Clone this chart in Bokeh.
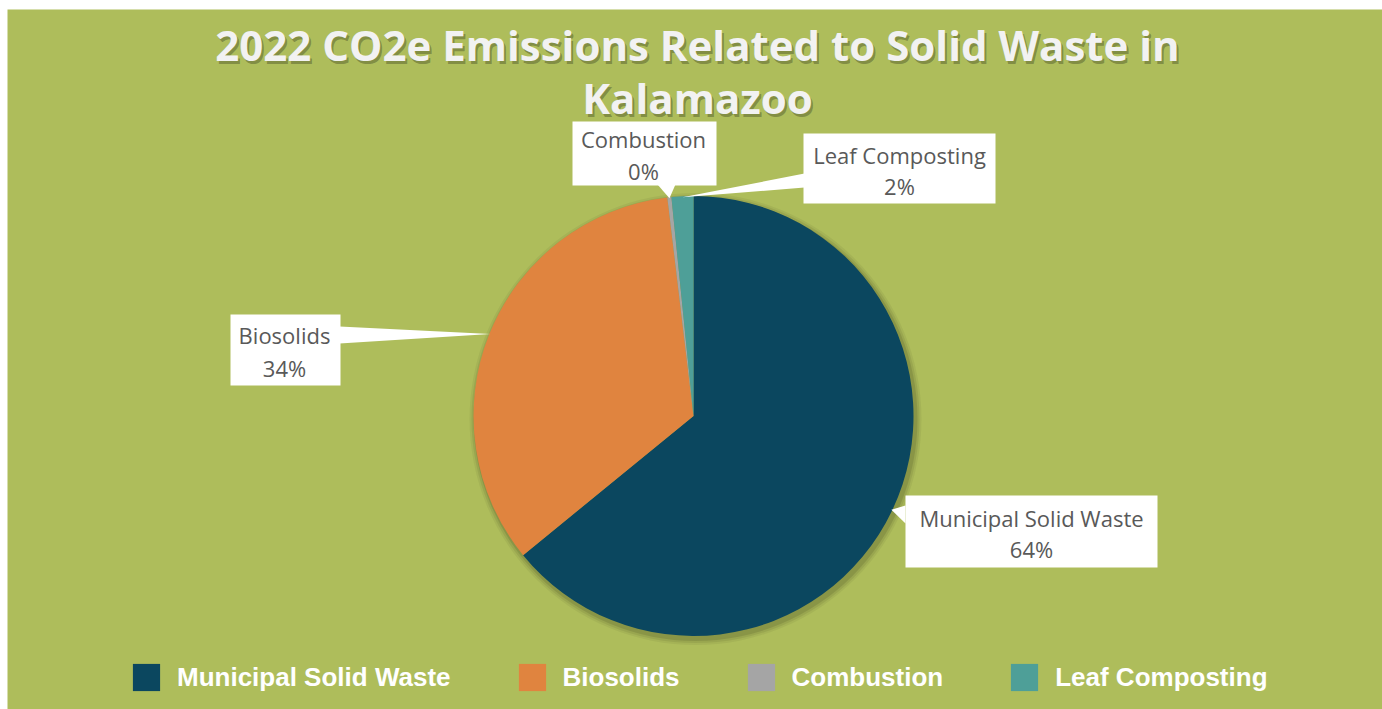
import math
from bokeh.plotting import figure
from bokeh.models import ColumnDataSource, Range1d, Legend, LegendItem
from bokeh.core.properties import value
from bokeh.embed import file_html
from bokeh.resources import INLINE

# ---- data ----
categories = ["Municipal Solid Waste", "Biosolids", "Combustion", "Leaf Composting"]
shares = [64.1, 34.0, 0.3, 1.6]
pct_labels = ["64%", "34%", "0%", "2%"]
colors = ["#0B475F", "#E0843F", "#A5A5A5", "#4E9F98"]
title_lines = ["2022 CO2e Emissions Related to Solid Waste in", "Kalamazoo"]

# ---- layout ----
W, H = 1382, 709
LEFT, TOP = 7, 9
BG = "#AEBD5B"

def X(px):  # image px -> data x
    return px

def Y(py):  # image px -> data y
    return H - py

p = figure(width=W, height=H, x_range=Range1d(LEFT, W), y_range=Range1d(0, H - TOP),
           output_backend="svg", toolbar_location=None,
           min_border_left=LEFT, min_border_top=TOP, min_border_right=0, min_border_bottom=0,
           x_axis_location=None, y_axis_location=None)
p.grid.visible = False
p.outline_line_color = None
p.background_fill_color = BG
p.border_fill_color = "white"

cx, cy, R = X(693), Y(415.5), 220

total = sum(shares)
starts, ends, mids = [], [], []
c = 0.0
for s in shares:
    a0 = math.pi / 2 - 2 * math.pi * c / total
    c += s
    a1 = math.pi / 2 - 2 * math.pi * c / total
    starts.append(a0)
    ends.append(a1)
    mids.append((a0 + a1) / 2)

src = ColumnDataSource(dict(cat=categories, start=starts, end=ends, color=colors,
                            x=[cx] * 4, y=[cy] * 4))

# soft shadow
for k, a in [(6, 0.05), (4, 0.07), (2, 0.10)]:
    p.circle(x=[cx + 2], y=[cy - 3], radius=R + k, fill_color="black",
             fill_alpha=a, line_color=None)

wr = p.wedge(x="x", y="y", radius=R, start_angle="start", end_angle="end",
             direction="clock", fill_color="color", line_color=None, source=src)

# ---- callouts ----
callouts = [
    dict(box=(905, 1157, 495, 567), base=[(905, 505), (905, 523)], tx=1031, ty=(517, 548)),
    dict(box=(230, 340, 314, 385), base=[(339, 326), (339, 343)], tx=284, ty=(334, 367)),
    dict(box=(572, 716, 121, 185), base=[(657, 184), (675, 184)], tx=643, ty=(138, 170)),
    dict(box=(803, 995, 133, 203), base=[(804, 173), (804, 187)], tx=899, ty=(154, 185)),
]

tri_xs, tri_ys = [], []
ql, qr, qt, qb = [], [], [], []
for i, co in enumerate(callouts):
    l, r, t, b = co["box"]
    ql.append(X(l)); qr.append(X(r)); qt.append(Y(t)); qb.append(Y(b))
    tipx = cx + (R - 1) * math.cos(mids[i])
    tipy = cy + (R - 1) * math.sin(mids[i])
    (bx0, by0), (bx1, by1) = co["base"]
    tri_xs.append([X(bx0), tipx, X(bx1)])
    tri_ys.append([Y(by0), tipy, Y(by1)])

p.quad(left=ql, right=qr, top=qt, bottom=qb, fill_color="white", line_color=None)
p.patches(xs=tri_xs, ys=tri_ys, fill_color="white", line_color=None)

for i, co in enumerate(callouts):
    p.text(x=[X(co["tx"])] * 2, y=[Y(co["ty"][0]), Y(co["ty"][1])],
           text=[categories[i], pct_labels[i]],
           text_font=value("Open Sans"), text_font_size="22px",
           text_color="#595959", text_align="center", text_baseline="middle")

# ---- title ----
ty_img = [44, 97]
p.text(x=[X(697) + 2] * 2, y=[Y(ty_img[0]) - 3, Y(ty_img[1]) - 3], text=title_lines,
       text_font=value("Open Sans"), text_font_style="bold", text_font_size="42px",
       text_color="#3a4020", text_alpha=0.40, text_align="center", text_baseline="middle")
p.text(x=[X(697)] * 2, y=[Y(ty_img[0]), Y(ty_img[1])], text=title_lines,
       text_font=value("Open Sans"), text_font_style="bold", text_font_size="42px",
       text_color="#F2F2F2", text_align="center", text_baseline="middle")

# ---- legend ----
items = [LegendItem(label=categories[i], renderers=[wr], index=i) for i in range(4)]
legend = Legend(items=items, orientation="horizontal", location=(122, 15),
                glyph_width=34, glyph_height=34, label_standoff=14, spacing=64,
                label_text_font="Liberation Sans", label_text_font_style="bold",
                label_text_font_size="26px", label_text_color="white",
                padding=0, margin=0, border_line_color=None, background_fill_alpha=0)
p.add_layout(legend)

open("out.html", "w").write(file_html(p, INLINE))
